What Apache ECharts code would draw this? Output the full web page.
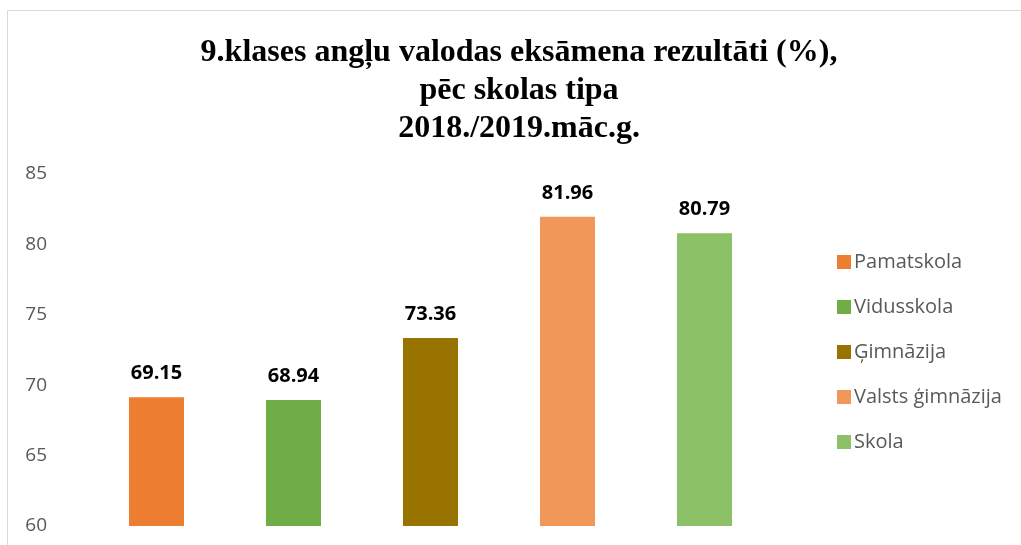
<!DOCTYPE html>
<html>
<head>
<meta charset="utf-8">
<script src="https://cdn.jsdelivr.net/npm/echarts@6/dist/echarts.min.js"></script>
<style>
  html, body { margin: 0; padding: 0; background: #fff; }
  #main { width: 1021px; height: 545px; }
</style>
</head>
<body>
<div id="main"></div>
<script>
// skolas tipi un rezultāti
var schoolTypes = ['Pamatskola', 'Vidusskola', 'Ģimnāzija', 'Valsts ģimnāzija', 'Skola'];
var results = [69.15, 68.94, 73.36, 81.96, 80.79];
var colors = ['#ED7D31', '#70AD47', '#997300', '#F1975A', '#8CC168'];
var yTicks = { min: 60, max: 85, step: 5 };

var chart = echarts.init(document.getElementById('main'));

// katram tipam sava sērija, lai leģendā būtu 5 ieraksti
var series = schoolTypes.map(function (name, i) {
    var d = schoolTypes.map(function () { return '-'; });
    d[i] = results[i];
    return {
        name: name,
        type: 'bar',
        stack: 'all',
        barWidth: 55,
        itemStyle: { color: colors[i] },
        label: {
            show: true,
            position: 'top',
            distance: 14,
            color: '#000',
            fontFamily: 'Open Sans',
            fontWeight: 'bold',
            fontSize: 20,
            formatter: function (p) { return p.value.toFixed(2); }
        },
        data: d
    };
});

var option = {
    animation: false,
    title: {
        text: '9.klases angļu valodas eksāmena rezultāti (%),\npēc skolas tipa\n2018./2019.māc.g.',
        left: 514,
        top: 29,
        textAlign: 'center',
        textStyle: {
            fontFamily: 'Liberation Serif',
            fontWeight: 'bold',
            fontSize: 32,
            lineHeight: 38,
            color: '#000'
        }
    },
    legend: {
        orient: 'vertical',
        left: 832,
        top: 247,
        itemWidth: 14,
        itemHeight: 14,
        itemGap: 25,
        icon: 'rect',
        textStyle: { fontFamily: 'Open Sans', fontSize: 20, color: '#595959', padding: [0, 0, 0, -2] },
        data: schoolTypes
    },
    grid: { left: 88, right: 248, top: 174, bottom: 19 },
    xAxis: {
        type: 'category',
        data: schoolTypes,
        axisLine: { show: false },
        axisTick: { show: false },
        axisLabel: { show: false }
    },
    yAxis: {
        type: 'value',
        min: yTicks.min,
        max: yTicks.max,
        interval: yTicks.step,
        splitLine: { show: false },
        axisLine: { show: false },
        axisTick: { show: false },
        axisLabel: { margin: 41, fontFamily: 'Open Sans', fontSize: 19, color: '#595959' }
    },
    graphic: [{
        type: 'polyline',
        shape: { points: [[7.5, 560], [7.5, 10.5], [1040, 10.5]] },
        style: { stroke: '#d9d9d9', lineWidth: 1, fill: null },
        silent: true
    }],
    series: series
};

chart.setOption(option);
</script>
</body>
</html>
